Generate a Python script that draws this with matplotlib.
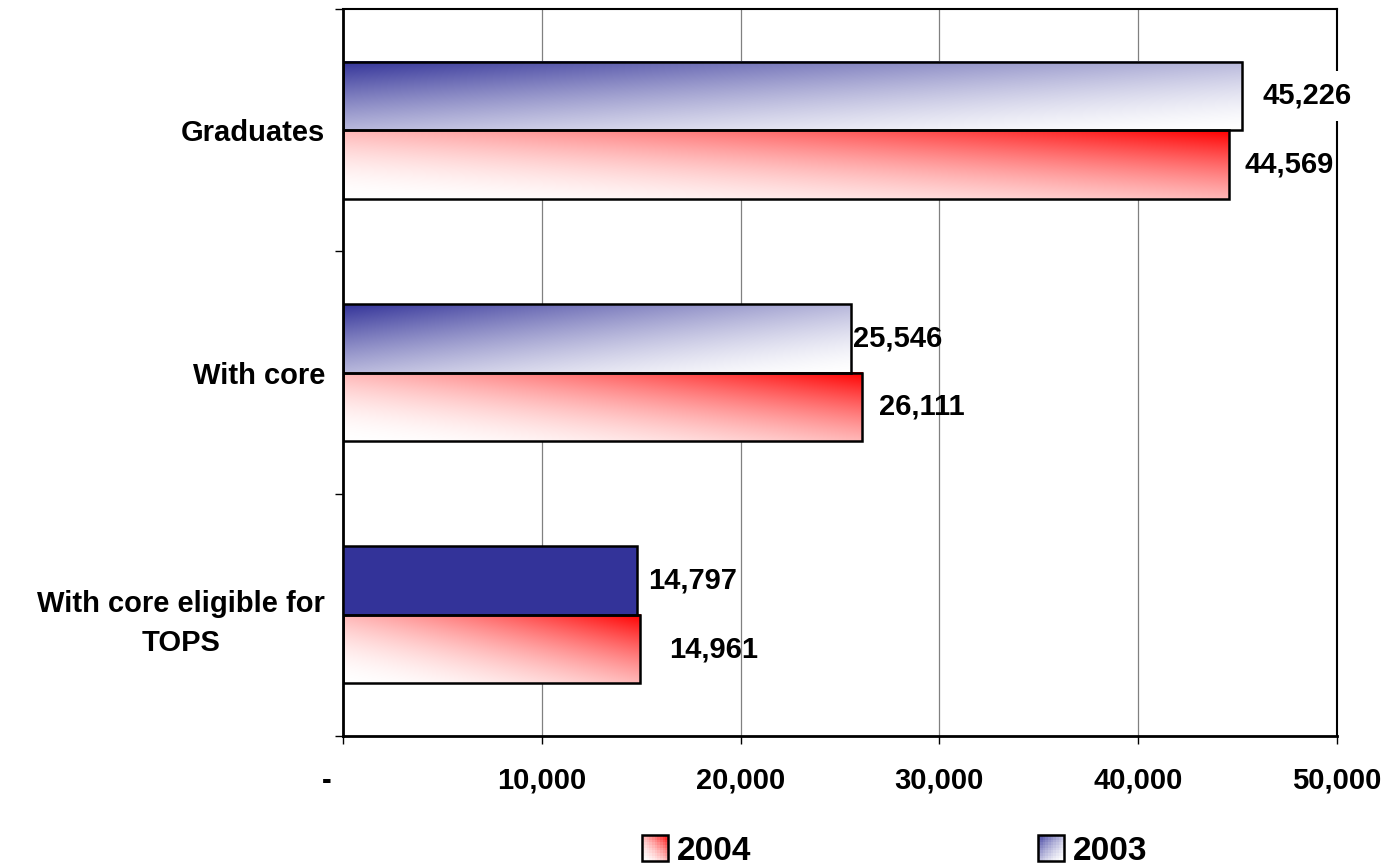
import numpy as np
import matplotlib.pyplot as plt
from matplotlib.patches import Rectangle
from matplotlib.legend_handler import HandlerBase
from matplotlib.ticker import FixedLocator, FuncFormatter

plt.rcParams['font.family'] = ['Liberation Sans', 'DejaVu Sans']
plt.rcParams['font.weight'] = 'bold'

categories = ['Graduates', 'With core', 'With core eligible for\nTOPS']
values_2003 = [45226, 25546, 14797]
values_2004 = [44569, 26111, 14961]
x_ticks = [0, 10000, 20000, 30000, 40000, 50000]

NAVY = np.array([0x33, 0x33, 0x99]) / 255
RED = np.array([1.0, 0.0, 0.0])
WHITE = np.ones(3)

# last 2003 bar is a plain fill, the others are shaded
solid_2003 = [False, False, True]
# gap between bar end and its value label, in pixels
gap_2003 = [20, 2, 11]
gap_2004 = [15, 17, 29]


def red_shade(u, v):
    # white at bottom-left, red at top-right
    t = np.clip(0.5 * u + 0.5 * v, 0, 1) ** 1.8
    return WHITE * (1 - t[..., None]) + RED * t[..., None]


def navy_shade(u, v):
    # navy at top-left, white at bottom-right
    t = np.clip(0.5 * (1 - u) + 0.5 * v, 0, 1) ** 1.5
    return WHITE * (1 - t[..., None]) + NAVY * t[..., None]


def shade_image(func, n=200):
    u = np.linspace(0, 1, n)
    v = np.linspace(1, 0, 60)  # row 0 is the top of the bar
    uu, vv = np.meshgrid(u, v)
    return func(uu, vv)


class GradientHandler(HandlerBase):
    def __init__(self, func):
        super().__init__()
        self.func = func

    def create_artists(self, legend, orig_handle, xdescent, ydescent,
                       width, height, fontsize, trans):
        n = 10
        side = height * 1.25
        x0 = -xdescent + (width - side) / 2
        y0 = -ydescent + (height - side) / 2
        arts = []
        for i in range(n):
            for j in range(n):
                u = np.array((i + 0.5) / n)
                v = np.array((j + 0.5) / n)
                c = self.func(u, v)
                arts.append(Rectangle((x0 + i * side / n, y0 + j * side / n),
                                      side / n, side / n, facecolor=c,
                                      edgecolor='none', transform=trans))
        arts.append(Rectangle((x0, y0), side, side, facecolor='none',
                              edgecolor='black', lw=1.8, transform=trans))
        return arts


fig = plt.figure(figsize=(13.87, 8.68), dpi=100)
ax = fig.add_axes([343 / 1387, 1 - 736 / 868, 994 / 1387, 727 / 868])

h = 0.283
y = np.arange(len(categories))
red_img = shade_image(red_shade)
navy_img = shade_image(navy_shade)

for i in range(len(categories)):
    # 2003 sits above the category centre, 2004 below
    top, bot = y[i] - h, y[i]
    if solid_2003[i]:
        ax.barh(y[i] - h / 2, values_2003[i], height=h, color=NAVY,
                edgecolor='black', lw=1.8, zorder=3)
    else:
        ax.imshow(navy_img, extent=(0, values_2003[i], bot, top),
                  aspect='auto', interpolation='bilinear', zorder=2)
        ax.barh(y[i] - h / 2, values_2003[i], height=h, fill=False,
                edgecolor='black', lw=1.8, zorder=3)
    ax.imshow(red_img, extent=(0, values_2004[i], y[i] + h, y[i]),
              aspect='auto', interpolation='bilinear', zorder=2)
    ax.barh(y[i] + h / 2, values_2004[i], height=h, fill=False,
            edgecolor='black', lw=1.8, zorder=3)

    box = dict(facecolor='white', edgecolor='none', pad=8) if i == 0 else None
    ax.annotate(f'{values_2003[i]:,}', (values_2003[i], y[i] - h / 2),
                xytext=(gap_2003[i], 0), textcoords='offset pixels',
                ha='left', va='center', fontsize=21, fontweight='bold',
                bbox=box, zorder=4)
    ax.annotate(f'{values_2004[i]:,}', (values_2004[i], y[i] + h / 2),
                xytext=(gap_2004[i], 0), textcoords='offset pixels',
                ha='left', va='center', fontsize=21, fontweight='bold',
                zorder=4)

ax.set_xlim(0, 50000)
ax.set_ylim(2.5, -0.5)

ax.xaxis.set_major_locator(FixedLocator(x_ticks))
ax.xaxis.set_major_formatter(FuncFormatter(
    lambda v, p: '-    ' if v == 0 else f'{int(v):,}'))
ax.tick_params(axis='x', direction='out', length=6, width=1, pad=16,
               labelsize=21)

ax.set_yticks(y)
ax.set_yticklabels(categories, fontsize=21, fontweight='bold',
                   linespacing=1.5)
for lbl in ax.get_yticklabels():
    lbl.set_multialignment('center')
ax.yaxis.set_minor_locator(FixedLocator([-0.5, 0.5, 1.5, 2.5]))
ax.tick_params(axis='y', which='major', length=0, pad=13)
ax.tick_params(axis='y', which='minor', direction='out', length=6, width=1)

ax.grid(axis='x', color='#808080', lw=0.9, zorder=1)
ax.set_axisbelow(True)
for side in ['left', 'bottom']:
    ax.spines[side].set_linewidth(2)
for side in ['top', 'right']:
    ax.spines[side].set_linewidth(1.5)

h2004 = Rectangle((0, 0), 1, 1)
h2003 = Rectangle((0, 0), 1, 1)
fig.legend([h2004, h2003], ['2004', '2003'],
           handler_map={h2004: GradientHandler(red_shade),
                        h2003: GradientHandler(navy_shade)},
           loc='center', bbox_to_anchor=(895 / 1387, 1 - 851 / 868),
           ncol=2, frameon=False, prop={'weight': 'bold', 'size': 24},
           handlelength=0.75, handleheight=0.6, handletextpad=0.3,
           columnspacing=8.6, borderaxespad=0)

fig.savefig('out.png', dpi=100)
